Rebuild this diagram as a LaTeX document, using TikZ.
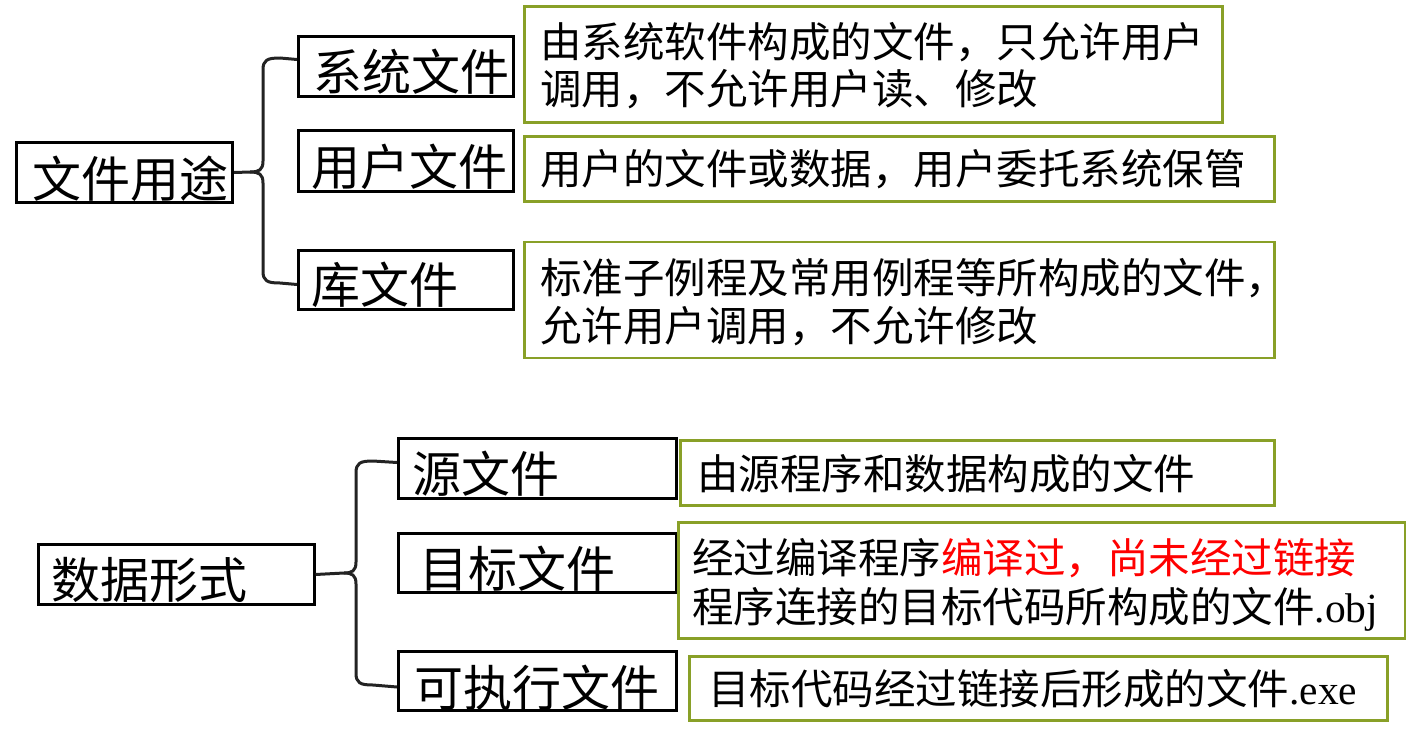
\documentclass[tikz,border=0pt]{standalone}
\usepackage{fontspec}
\setmainfont{Liberation Serif}
\newfontfamily\cjk{Noto Sans CJK SC}
\newfontfamily\latf{Liberation Serif}
\definecolor{boxgreen}{RGB}{137,160,40}
\definecolor{bracecol}{RGB}{35,35,35}
\begin{document}
\begin{tikzpicture}[x=1pt,y=-1pt,
  catbox/.style={draw=black,line width=3pt,inner sep=0pt,anchor=north west},
  descbox/.style={draw=boxgreen,line width=2.5pt,inner sep=0pt,anchor=north west},
  cattext/.style={anchor=base west,inner sep=0pt,font=\cjk\fontsize{49}{49}\selectfont},
  desctext/.style={anchor=base west,inner sep=0pt,font=\cjk\fontsize{41.5}{48}\selectfont},
  brace/.style={draw=bracecol,line width=3pt}]
\useasboundingbox (0,0) rectangle (1406,744);

% ---------- upper group ----------
\node[catbox,minimum width=216.5pt,minimum height=60pt] (r1) at (14.5,141) {};
\node[catbox,minimum width=215pt,minimum height=60pt] (sys) at (297,35) {};
\node[catbox,minimum width=215pt,minimum height=61pt] (usr) at (297,129) {};
\node[catbox,minimum width=215pt,minimum height=59pt] (lib) at (297,248.5) {};

\node[cattext] (r1t) at (32,197.5) {文件用途};
\node[cattext] (syst) at (313,90.5) {系统文件};
\node[cattext] (usrt) at (311,185.5) {用户文件};
\node[cattext] (libt) at (311,303.5) {库文件};

\coordinate (sysin) at ([yshift=7pt]sys.west);
\coordinate (libin) at ([yshift=-5pt]lib.west);
\draw[brace] (r1.east) -- (250,172) .. controls (259,172) and (263,170) .. (263,161)
  -- (263,70) .. controls (263,60) and (267,58) .. (280,58) -- (sysin);
\draw[brace] (250,172) .. controls (259,172) and (263,174) .. (263,183)
  -- (263,271) .. controls (263,281) and (267,283) .. (280,283) -- (libin);

\node[descbox,minimum width=698pt,minimum height=116pt] (d1) at (523,5) {};
\node[descbox,minimum width=750pt,minimum height=65pt] (d2) at (523,135) {};
\node[descbox,minimum width=750pt,minimum height=116pt] (d3) at (523,240.5) {};

\node[desctext] (d1a) at (540,57) {由系统软件构成的文件，只允许用户};
\node[desctext] (d1b) at (540,104.5) {调用，不允许用户读、修改};
\node[desctext] (d2a) at (540,184) {用户的文件或数据，用户委托系统保管};
\node[desctext] (d3a) at (540,293) {标准子例程及常用例程等所构成的文件，};
\node[desctext] (d3b) at (540,341) {允许用户调用，不允许修改};

% ---------- lower group ----------
\node[catbox,minimum width=276pt,minimum height=60pt] (r2) at (36.5,543) {};
\node[catbox,minimum width=278pt,minimum height=60pt] (src) at (397,437) {};
\node[catbox,minimum width=278pt,minimum height=59pt] (obj) at (397,532) {};
\node[catbox,minimum width=278pt,minimum height=59pt] (exe) at (397,650) {};

\node[cattext] (r2t) at (51,598.5) {数据形式};
\node[cattext] (srct) at (412,492.5) {源文件};
\node[cattext] (objt) at (419,587.5) {目标文件};
\node[cattext] (exet) at (414,706.5) {可执行文件};

\coordinate (srcin) at ([yshift=6pt]src.west);
\coordinate (exein) at ([yshift=-6pt]exe.west);
\draw[brace] (r2.east) -- (344,573) .. controls (352,573) and (356,571) .. (356,562)
  -- (356,473) .. controls (356,463) and (360,461) .. (373,461) -- (srcin);
\draw[brace] (344,573) .. controls (352,573) and (356,575) .. (356,584)
  -- (356,673) .. controls (356,683) and (360,685) .. (373,685) -- (exein);

\node[descbox,minimum width=594pt,minimum height=65pt] (d4) at (679,439) {};
\node[descbox,minimum width=727pt,minimum height=116pt] (d5) at (677,521) {};
\node[descbox,minimum width=698pt,minimum height=64pt] (d6) at (688,655) {};

\node[desctext] (d4a) at (697,489) {由源程序和数据构成的文件};
\node[desctext] (d5a) at (692,573) {经过编译程序\textcolor{red}{编译过，尚未经过链接}};
\node[desctext] (d5b) at (692,622) {程序连接的目标代码所构成的文件{\latf .obj}};
\node[desctext] (d6a) at (708,704) {目标代码经过链接后形成的文件{\latf .exe}};
\end{tikzpicture}
\end{document}
